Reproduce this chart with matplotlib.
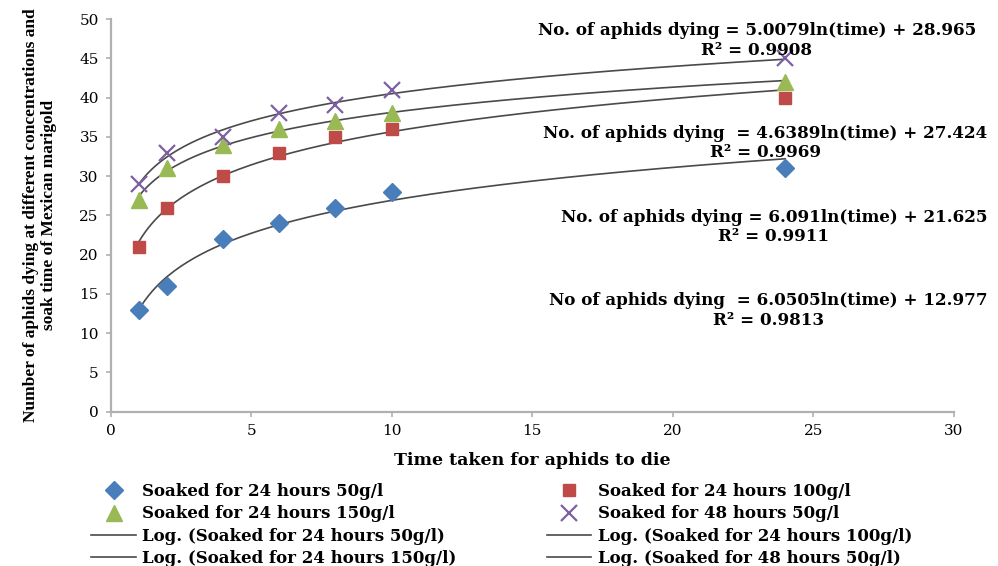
import numpy as np
import matplotlib.pyplot as plt

plt.rcParams['font.family'] = ['DejaVu Serif', 'Liberation Serif']

# data
time = [1, 2, 4, 6, 8, 10, 24]
s24_50 = [13, 16, 22, 24, 26, 28, 31]
s24_100 = [21, 26, 30, 33, 35, 36, 40]
s24_150 = [27, 31, 34, 36, 37, 38, 42]
s48_50 = [29, 33, 35, 38, 39, 41, 45]

series_names = ['Soaked for 24 hours 50g/l', 'Soaked for 24 hours 100g/l',
                'Soaked for 24 hours 150g/l', 'Soaked for 48 hours 50g/l']
colors = ['#4a7ebb', '#be4b48', '#98b954', '#7d60a0']
markers = ['D', 's', '^', 'x']
msizes = [9, 8, 12, 11]

eq_labels = [
    'No. of aphids dying = 5.0079ln(time) + 28.965\nR² = 0.9908',
    'No. of aphids dying  = 4.6389ln(time) + 27.424\nR² = 0.9969',
    'No. of aphids dying = 6.091ln(time) + 21.625\nR² = 0.9911',
    'No of aphids dying  = 6.0505ln(time) + 12.977\nR² = 0.9813',
]
eq_pos = [(23.0, 47.3), (23.3, 34.2), (23.6, 23.5), (23.4, 12.9)]

fig = plt.figure(figsize=(9.98, 5.66), dpi=100)
ax = fig.add_axes([0.1109, 0.2726, 0.8447, 0.6938])

data = [s24_50, s24_100, s24_150, s48_50]
t = np.array(time, dtype=float)
marker_handles = []
line_handles = []
for vals, name, c, m, ms in zip(data, series_names, colors, markers, msizes):
    mk = dict(marker=m, color=c, markersize=ms, linestyle='none')
    if m == 'x':
        mk['markeredgewidth'] = 1.6
    h, = ax.plot(time, vals, label=name, zorder=3, **mk)
    marker_handles.append(h)
    # logarithmic trend line
    b, a = np.polyfit(np.log(t), vals, 1)
    tt = np.linspace(1, 24, 200)
    l, = ax.plot(tt, b * np.log(tt) + a, color='#4a4a4a', lw=1.2, zorder=2,
                 label='Log. (' + name + ')')
    line_handles.append(l)

for txt, (x, y) in zip(eq_labels, eq_pos):
    ax.text(x, y, txt, ha='center', va='center', fontsize=12.1,
            fontweight='bold', linespacing=1.2)

ax.set_xlim(0, 30)
ax.set_ylim(0, 50)
ax.set_xticks(range(0, 31, 5))
ax.set_yticks(range(0, 51, 5))
ax.tick_params(axis='both', colors='#b0b0b0', labelcolor='black', labelsize=11,
               direction='out', length=3.6, width=1.2, pad=5)
for s in ['top', 'right']:
    ax.spines[s].set_visible(False)
for s in ['left', 'bottom']:
    ax.spines[s].set_color('#b0b0b0')
    ax.spines[s].set_linewidth(1.6)

ax.set_xlabel('Time taken for aphids to die', fontsize=12.5, fontweight='bold',
              labelpad=10.5)
ax.set_ylabel('Number of aphids dying at different concentrations and\n'
              'soak time of Mexican marigold', fontsize=12.5, fontweight='bold',
              family='Liberation Serif', labelpad=16, linespacing=1.15)

handles = [marker_handles[0], marker_handles[2], line_handles[0], line_handles[2],
           marker_handles[1], marker_handles[3], line_handles[1], line_handles[3]]
fig.legend(handles=handles, labels=[h.get_label() for h in handles],
           ncol=2, loc='upper left', bbox_to_anchor=(0.085, 0.158),
           frameon=False, prop={'size': 12, 'weight': 'bold'},
           columnspacing=5.4, handlelength=2.65, handletextpad=0.4,
           labelspacing=0.31, borderaxespad=0)

fig.savefig('out.png', dpi=100)
